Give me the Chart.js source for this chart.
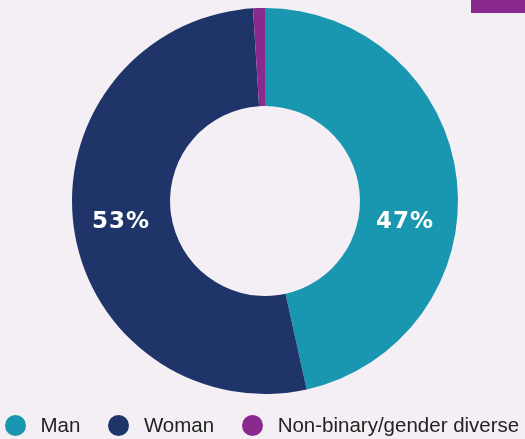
<!DOCTYPE html>
<html>
<head>
<meta charset="utf-8">
<script src="https://cdn.jsdelivr.net/npm/chart.js@4"></script>
<style>
  html, body { margin: 0; padding: 0; background: #f4eff5; }
  .wrap { position: relative; width: 525px; height: 439px; overflow: hidden; }
  .corner { position: absolute; left: 471px; top: 0; width: 54px; height: 13px; background: #8b2a8e; }
  #legend { position: absolute; left: 5px; top: 413px; display: flex; align-items: center; white-space: nowrap;
            font-family: "Liberation Sans", Arial, sans-serif; font-size: 20.5px; color: #222222; }
  #legend .item { display: flex; align-items: center; margin-right: 28px; }
  #legend .dot { width: 21px; height: 21px; border-radius: 50%; margin-right: 14.5px; }
</style>
</head>
<body>
<div class="wrap">
  <canvas id="genderChart" width="525" height="439"></canvas>
  <div class="corner"></div>
  <div id="legend"></div>
</div>
<script>
// Gender split (values as shown, rounded survey numbers)
const categories = ['Man', 'Woman', 'Non-binary/gender diverse'];
const shares = [47, 53, 1];
const shareLabels = ['47%', '53%', ''];
const colors = ['#1997b0', '#1f3468', '#8b2a8e'];

// percent labels drawn on top of the ring
const sliceLabels = {
    id: 'sliceLabels',
    afterDatasetsDraw(chart) {
        const ctx = chart.ctx;
        const arcs = chart.getDatasetMeta(0).data;
        ctx.save();
        ctx.fillStyle = '#ffffff';
        ctx.font = 'bold 23px "DejaVu Sans", sans-serif';
        ctx.letterSpacing = '1px';
        ctx.textAlign = 'center';
        ctx.textBaseline = 'middle';
        arcs.forEach(function (arc, i) {
            if (!shareLabels[i]) return;
            const r = (arc.innerRadius + arc.outerRadius) / 2;
            const side = i === 0 ? 1 : -1;
            const x = arc.x + side * (r - (i === 0 ? 4 : 0));
            const y = arc.y + 21;
            ctx.fillText(shareLabels[i], x, y);
        });
        ctx.restore();
    }
};

const ctxGender = document.getElementById('genderChart').getContext('2d');
const genderChart = new Chart(ctxGender, {
    type: 'doughnut',
    data: {
        labels: categories,
        datasets: [{
            data: shares,
            backgroundColor: colors,
            borderWidth: 0
        }]
    },
    options: {
        responsive: false,
        animation: false,
        cutout: '49.2%',
        layout: { padding: { top: 8, bottom: 45, left: 5, right: 0 } },
        plugins: {
            legend: { display: false },
            tooltip: { enabled: false }
        }
    },
    plugins: [sliceLabels]
});

// html legend built from the same arrays
const legendBox = document.getElementById('legend');
categories.forEach(function (name, i) {
    const item = document.createElement('div');
    item.className = 'item';
    item.innerHTML = '<span class="dot" style="background:' + colors[i] + '"></span><span>' + name + '</span>';
    legendBox.appendChild(item);
});
</script>
</body>
</html>
